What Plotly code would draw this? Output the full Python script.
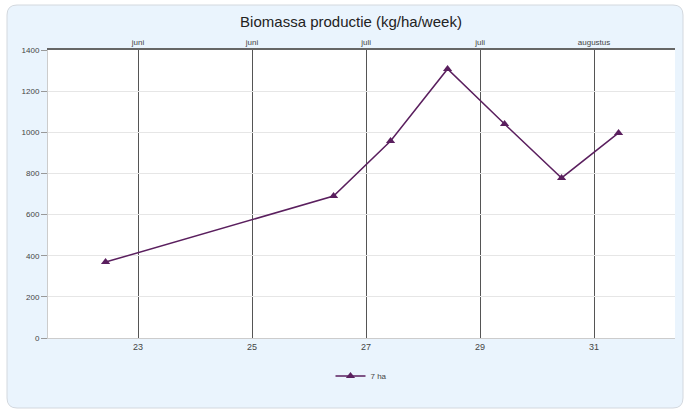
import plotly.graph_objects as go

weeks = [22.43, 26.43, 27.43, 28.43, 29.43, 30.43, 31.43]
biomass = [369, 690, 958, 1308, 1040, 778, 997]
series_name = "7 ha"
week_ticks = [23, 25, 27, 29, 31]
month_labels = ["juni", "juni", "juli", "juli", "augustus"]
y_ticks = [0, 200, 400, 600, 800, 1000, 1200, 1400]

W, H = 685, 412
L, R, T, B = 48, 10, 50, 74
pw, ph = W - L - R, H - T - B

def px2paper_x(px):
    return (px - L) / pw

def py2paper_y(py):
    return (H - B - py) / ph

fig = go.Figure()
fig.add_trace(go.Scatter(
    x=weeks, y=biomass, name=series_name, mode="lines+markers",
    line=dict(color="#5a1f5e", width=1.5),
    marker=dict(symbol="triangle-up", size=8, color="#5a1f5e"),
    showlegend=True,
))
fig.add_trace(go.Scatter(x=[weeks[0]], y=[biomass[0]], xaxis="x2", mode="markers",
                         marker=dict(opacity=0), showlegend=False, hoverinfo="skip"))

x_range = [21.42, 32.42]

x0, x1 = px2paper_x(7), px2paper_x(683)
y0, y1 = py2paper_y(408), py2paper_y(5)
rx = 10 / pw
ry = 10 / ph
path = (f"M {x0+rx},{y1} L {x1-rx},{y1} Q {x1},{y1} {x1},{y1-ry} "
        f"L {x1},{y0+ry} Q {x1},{y0} {x1-rx},{y0} L {x0+rx},{y0} "
        f"Q {x0},{y0} {x0},{y0+ry} L {x0},{y1-ry} Q {x0},{y1} {x0+rx},{y1} Z")
fig.add_shape(type="path", path=path, xref="paper", yref="paper",
              fillcolor="#eaf4fd", line=dict(color="#d3d8de", width=1), layer="below")
fig.add_shape(type="rect", xref="paper", yref="paper", x0=0, x1=1, y0=0, y1=1,
              fillcolor="white", line=dict(width=0), layer="below")

fig.update_layout(
    width=W, height=H,
    margin=dict(l=L, r=R, t=T, b=B, autoexpand=False),
    paper_bgcolor="white",
    plot_bgcolor="rgba(0,0,0,0)",
    font=dict(family="Liberation Sans, Arial, sans-serif", color="#444"),
    title=dict(text="Biomassa productie (kg/ha/week)", x=px2paper_x(351) * pw / W + L / W,
               xanchor="center", xref="container",
               y=1 - 22 / H, yanchor="middle", automargin=False,
               font=dict(size=15, color="#222")),
    xaxis=dict(range=x_range, tickvals=week_ticks, ticktext=[str(w) for w in week_ticks],
               showgrid=True, gridcolor="#555", gridwidth=1, automargin=False,
               zeroline=False, showline=True, linecolor="#ccc", linewidth=1,
               ticks="", tickfont=dict(size=9, color="#444")),
    xaxis2=dict(range=x_range, overlaying="x", side="top", tickvals=week_ticks,
                ticktext=month_labels, showgrid=False, zeroline=False, automargin=False,
                showline=True, linecolor="#666", linewidth=1.5, ticks="",
                tickfont=dict(size=8, color="#444")),
    yaxis=dict(range=[0, 1400], tickvals=y_ticks, showgrid=True, gridcolor="#e6e6e6",
               zeroline=False, showline=True, linecolor="#ccc", linewidth=1,
               ticks="outside", ticklen=6, tickcolor="#999", automargin=False,
               tickfont=dict(size=8, color="#444")),
    showlegend=True,
    legend=dict(orientation="h", x=0.5, xanchor="center", y=py2paper_y(376), yanchor="middle",
                bgcolor="rgba(0,0,0,0)", font=dict(size=8, color="#444"),
                itemwidth=30),
)

fig.write_html("out.html", config={"displayModeBar": False},
               post_script="document.body.style.margin='0';")
